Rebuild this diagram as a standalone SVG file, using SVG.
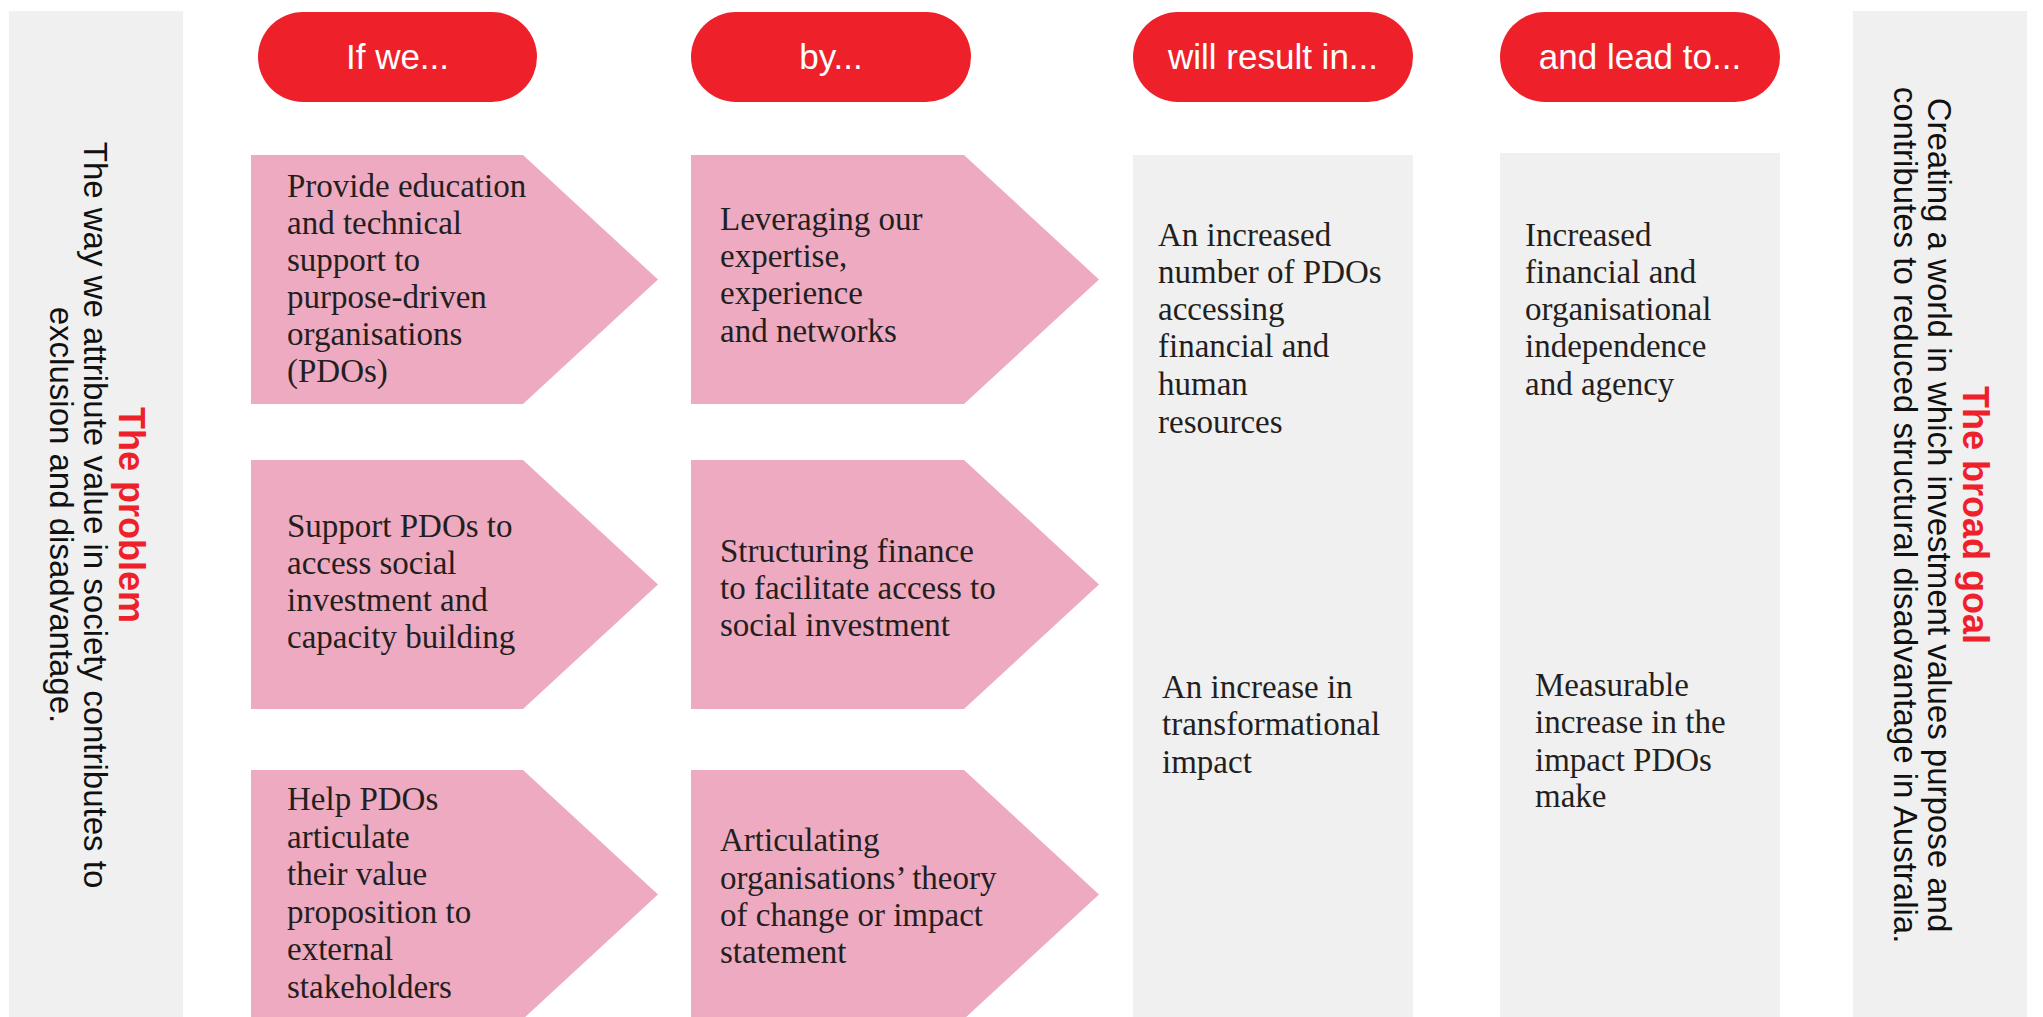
<svg xmlns="http://www.w3.org/2000/svg" width="2043" height="1017" viewBox="0 0 2043 1017">
<style>
.panel{fill:#f0f0f0}
.pill{fill:#ee212b}
.arrow{fill:#eeaac0}
.box{fill:#f0f0f0}
.ptxt{font-family:"Liberation Sans",Arial,sans-serif;font-size:35px;fill:#ffffff;text-anchor:middle}
.body{font-family:"Liberation Serif","Times New Roman",serif;font-size:33px;fill:#231f20}
.side{font-family:"Liberation Sans",Arial,sans-serif;font-size:33px;fill:#111111;text-anchor:middle}
.sideh{font-family:"Liberation Sans",Arial,sans-serif;font-size:36px;font-weight:bold;fill:#ee212b;text-anchor:middle}
</style>
<rect width="2043" height="1017" fill="#ffffff"/>

<g id="problem">
<rect class="panel" x="9" y="11" width="174" height="1006"/>
<text class="sideh" transform="translate(119,515) rotate(90)">The problem</text>
<text class="side" transform="translate(84,515) rotate(90)">The way we attribute value in society contributes to</text>
<text class="side" transform="translate(50,515) rotate(90)">exclusion and disadvantage.</text>
</g>

<g id="goal">
<rect class="panel" x="1853" y="11" width="174" height="1006"/>
<text class="sideh" transform="translate(1963,515) rotate(90)">The broad goal</text>
<text class="side" transform="translate(1928,515) rotate(90)">Creating a world in which investment values purpose and</text>
<text class="side" transform="translate(1894,515) rotate(90)">contributes to reduced structural disadvantage in Australia.</text>
</g>

<g id="head-if">
<rect class="pill" x="258" y="12" width="279" height="90" rx="45"/>
<text class="ptxt" x="397.5" y="69">If we...</text>
</g>
<g id="head-by">
<rect class="pill" x="691" y="12" width="280" height="90" rx="45"/>
<text class="ptxt" x="831" y="69">by...</text>
</g>
<g id="head-result">
<rect class="pill" x="1133" y="12" width="280" height="90" rx="45"/>
<text class="ptxt" x="1273" y="69">will result in...</text>
</g>
<g id="head-lead">
<rect class="pill" x="1500" y="12" width="280" height="90" rx="45"/>
<text class="ptxt" x="1640" y="69">and lead to...</text>
</g>

<g id="if-1">
<polygon class="arrow" points="251,155 523,155 658,279.5 523,404 251,404"/>
<text class="body" x="287" y="197">Provide education</text>
<text class="body" x="287" y="234">and technical</text>
<text class="body" x="287" y="271">support to</text>
<text class="body" x="287" y="308">purpose-driven</text>
<text class="body" x="287" y="345">organisations</text>
<text class="body" x="287" y="382">(PDOs)</text>
</g>
<g id="if-2">
<polygon class="arrow" points="251,460 523,460 658,584.5 523,709 251,709"/>
<text class="body" x="287" y="537">Support PDOs to</text>
<text class="body" x="287" y="574">access social</text>
<text class="body" x="287" y="611">investment and</text>
<text class="body" x="287" y="648">capacity building</text>
</g>
<g id="if-3">
<polygon class="arrow" points="251,770 523,770 658,894.5 523,1019 251,1019"/>
<text class="body" x="287" y="810">Help PDOs</text>
<text class="body" x="287" y="847.5">articulate</text>
<text class="body" x="287" y="885">their value</text>
<text class="body" x="287" y="922.5">proposition to</text>
<text class="body" x="287" y="960">external</text>
<text class="body" x="287" y="997.5">stakeholders</text>
</g>

<g id="by-1">
<polygon class="arrow" points="691,155 964,155 1099,279.5 964,404 691,404"/>
<text class="body" x="720" y="230">Leveraging our</text>
<text class="body" x="720" y="267">expertise,</text>
<text class="body" x="720" y="304">experience</text>
<text class="body" x="720" y="342">and networks</text>
</g>
<g id="by-2">
<polygon class="arrow" points="691,460 964,460 1099,584.5 964,709 691,709"/>
<text class="body" x="720" y="562">Structuring finance</text>
<text class="body" x="720" y="599">to facilitate access to</text>
<text class="body" x="720" y="636">social investment</text>
</g>
<g id="by-3">
<polygon class="arrow" points="691,770 964,770 1099,894.5 964,1019 691,1019"/>
<text class="body" x="720" y="851">Articulating</text>
<text class="body" x="720" y="889">organisations’ theory</text>
<text class="body" x="720" y="926">of change or impact</text>
<text class="body" x="720" y="963">statement</text>
</g>

<g id="result">
<rect class="box" x="1133" y="155" width="280" height="862"/>
<text class="body" x="1158" y="246">An increased</text>
<text class="body" x="1158" y="283">number of PDOs</text>
<text class="body" x="1158" y="320">accessing</text>
<text class="body" x="1158" y="357">financial and</text>
<text class="body" x="1158" y="395">human</text>
<text class="body" x="1158" y="433">resources</text>
<text class="body" x="1162" y="698">An increase in</text>
<text class="body" x="1162" y="735">transformational</text>
<text class="body" x="1162" y="773">impact</text>
</g>

<g id="lead">
<rect class="box" x="1500" y="153" width="280" height="864"/>
<text class="body" x="1525" y="246">Increased</text>
<text class="body" x="1525" y="283">financial and</text>
<text class="body" x="1525" y="320">organisational</text>
<text class="body" x="1525" y="357">independence</text>
<text class="body" x="1525" y="395">and agency</text>
<text class="body" x="1535" y="696">Measurable</text>
<text class="body" x="1535" y="733">increase in the</text>
<text class="body" x="1535" y="771">impact PDOs</text>
<text class="body" x="1535" y="807">make</text>
</g>

<g id="connectors"></g>
</svg>
